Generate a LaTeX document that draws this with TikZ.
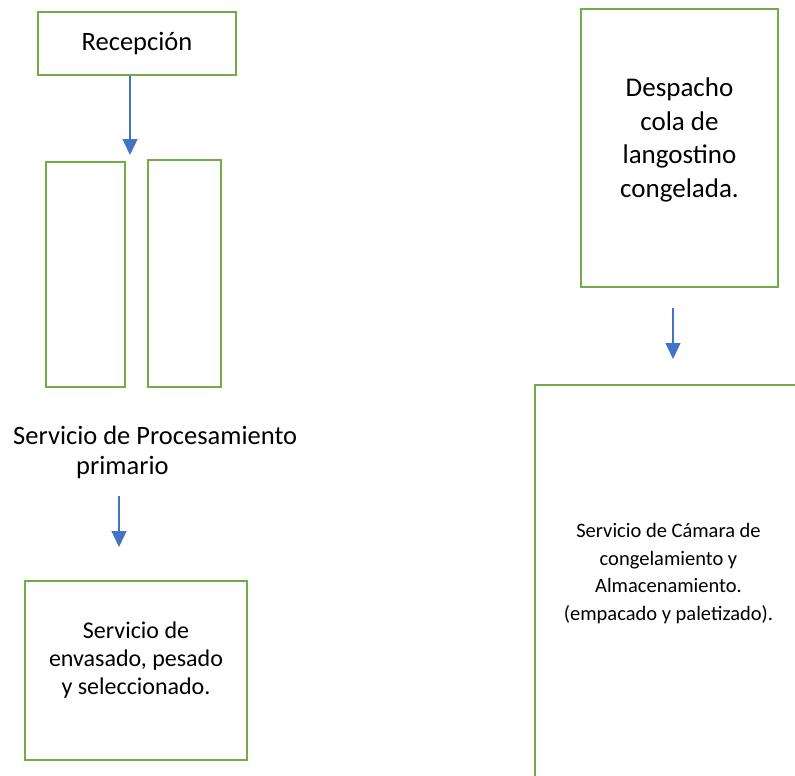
\documentclass[tikz,border=0pt]{standalone}
\usepackage{fontspec}
\setmainfont{Carlito}
\usepackage{xcolor}
\usetikzlibrary{arrows.meta}
\definecolor{boxgreen}{HTML}{70AD47}
\definecolor{arrowblue}{HTML}{4472C4}

\begin{document}
\begin{tikzpicture}[x=1pt, y=-1pt,
    box/.style={draw=boxgreen, line width=2.6pt, inner sep=0pt},
    lbl/.style={inner sep=0pt, font=\fontsize{26.5}{32}\selectfont},
    txt/.style={inner sep=0pt, align=center},
    flow/.style={draw=arrowblue, line width=1.3pt, -{Triangle[width=15pt,length=16pt]}}]
            \useasboundingbox (0, 0) rectangle (795, 776);
            \clip (0, 0) rectangle (795, 776);

            % left column
            \node[box, lbl, minimum width=198, minimum height=63] (recep) at (137, 43.5) {Recepción};
            \node[box, minimum width=79, minimum height=225] (colA) at (85.5, 274.5) {};
            \node[box, minimum width=73, minimum height=227] (colB) at (184.5, 273.5) {};
            \node[lbl, anchor=base west] (proc) at (13, 444) {Servicio de Procesamiento};
            \node[lbl, anchor=base west] (procb) at (76, 474) {primario};
            \node[box, minimum width=222, minimum height=179] (env) at (136, 670.5) {};
            \node[txt, font=\fontsize{24}{28}\selectfont] (envt) at ([yshift=10pt]env.center)
                {Servicio de\\envasado, pesado\\y seleccionado.};

            % right column
            \node[box, minimum width=197, minimum height=278] (desp) at (679.5, 148) {};
            \node[txt, font=\fontsize{27}{33.5}\selectfont] (despt) at ([yshift=8pt]desp.center)
                {Despacho\\cola de\\langostino\\congelada.};
            \node[box, minimum width=267, minimum height=415] (cam) at (668.5, 592.5) {};
            \node[txt, font=\fontsize{20.5}{27.7}\selectfont] (camt) at ([yshift=19pt]cam.center)
                {Servicio de Cámara de\\congelamiento y\\Almacenamiento.\\(empacado y paletizado).};

            % arrows
            \coordinate (a1) at (130, 155);
            \coordinate (a2s) at (119, 496);
            \coordinate (a2) at (119, 547);
            \coordinate (a3s) at (673, 308);
            \coordinate (a3) at (673, 359);
            \draw[flow] (recep.south -| a1) -- (a1);
            \draw[flow] (a2s) -- (a2);
            \draw[flow] (a3s) -- (a3);
        \end{tikzpicture}
\end{document}
